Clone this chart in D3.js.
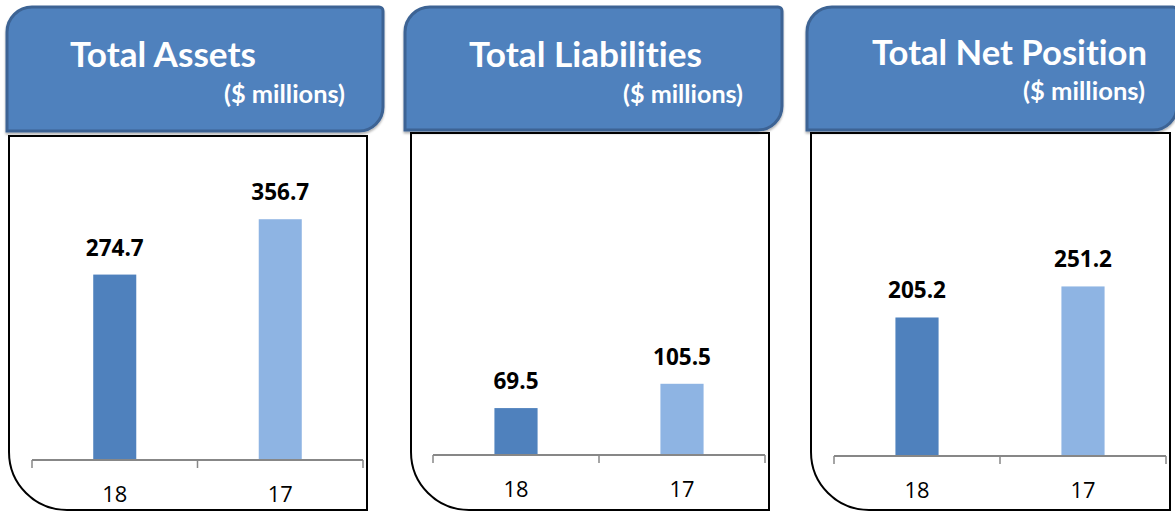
<!DOCTYPE html>
<html>
<head>
<meta charset="utf-8">
<script src="https://cdn.jsdelivr.net/npm/d3@7"></script>
<style>
  html, body { margin: 0; padding: 0; background: #fff; }
  svg { display: block; }
  text { font-variant-ligatures: none; font-feature-settings: "liga" 0, "dlig" 0; }
</style>
</head>
<body>
<svg id="chart" width="1175" height="513"></svg>
<script>
// ---- data ----
const titles = ["Total Assets", "Total Liabilities", "Total Net Position"];
const unitLabel = "($ millions)";
const categories = ["18", "17"];
const assets = [274.7, 356.7];
const liabilities = [69.5, 105.5];
const netPosition = [205.2, 251.2];
const seriesValues = [assets, liabilities, netPosition];

// ---- layout (positions only) ----
const layout = [
  { hx0: 7,   hx1: 383,  hy0: 7, hy1: 131, bx0: 9,   bx1: 367,  by0: 136, by1: 510,
    ax0: 32,  ax1: 363,  base: 460, tx: 70,  tw: 186, tb: 67, sx: 345,  sw: 121, sb: 103, cb: 502 },
  { hx0: 405, hx1: 782,  hy0: 7, hy1: 130, bx0: 411, bx1: 769,  by0: 133, by1: 510,
    ax0: 433, ax1: 765,  base: 455, tx: 469, tw: 233, tb: 67, sx: 743,  sw: 120, sb: 103, cb: 497 },
  { hx0: 807, hx1: 1177, hy0: 7, hy1: 130, bx0: 811, bx1: 1170, by0: 133, by1: 510,
    ax0: 834, ax1: 1166, base: 456, tx: 872, tw: 275, tb: 65, sx: 1145, sw: 122, sb: 100, cb: 498 }
];
const colors = ["#4f81bd", "#8eb4e3"];
const titleFont = "Lato, 'Open Sans', 'DejaVu Sans', sans-serif";
const numFont = "'Open Sans', 'DejaVu Sans', sans-serif";

const svg = d3.select("#chart");
const defs = svg.append("defs");
const f = defs.append("filter").attr("id", "shadow").attr("x", "-5%").attr("y", "-5%").attr("width", "110%").attr("height", "115%");
f.append("feDropShadow").attr("dx", 0).attr("dy", 2).attr("stdDeviation", 1.2).attr("flood-color", "#000").attr("flood-opacity", 0.3);

function headerPath(x0, y0, x1, y1, rtl, rtr, rbr) {
  const p = d3.path();
  p.moveTo(x0, y1);
  p.lineTo(x0, y0 + rtl);
  p.arcTo(x0, y0, x0 + rtl, y0, rtl);
  p.lineTo(x1 - rtr, y0);
  p.arcTo(x1, y0, x1, y0 + rtr, rtr);
  p.lineTo(x1, y1 - rbr);
  p.arcTo(x1, y1, x1 - rbr, y1, rbr);
  p.closePath();
  return p.toString();
}
function bodyPath(x0, y0, x1, y1, rbl) {
  const p = d3.path();
  p.moveTo(x0, y0);
  p.lineTo(x1, y0);
  p.lineTo(x1, y1);
  p.lineTo(x0 + rbl, y1);
  p.arcTo(x0, y1, x0, y1 - rbl, rbl);
  p.closePath();
  return p.toString();
}
function fitText(sel, width) {
  const node = sel.node();
  const fs = parseFloat(sel.attr("font-size"));
  const w = node.getComputedTextLength();
  if (w > 0) sel.attr("font-size", (fs * width / w).toFixed(2));
}
// measure a font size giving a target width for a sample string
function sizeFor(sample, family, weight, width) {
  const t = svg.append("text").attr("font-family", family).attr("font-weight", weight)
    .attr("font-size", 20).text(sample);
  const w = t.node().getComputedTextLength();
  t.remove();
  return w > 0 ? 20 * width / w : 20;
}
const valSize = sizeFor("274.7", numFont, 700, 58);
const catSize = sizeFor("18", numFont, 400, 25);

layout.forEach((L, i) => {
  const g = svg.append("g");
  const vals = seriesValues[i];

  // body panel
  g.append("path")
    .attr("d", bodyPath(L.bx0, L.by0, L.bx1, L.by1, 58))
    .attr("fill", "#fff").attr("stroke", "#000").attr("stroke-width", 2);

  // scales
  const x = d3.scaleBand().domain(categories).range([L.ax0, L.ax1]).paddingInner(0.74).paddingOuter(0.37);
  const y = d3.scaleLinear().domain([0, 400]).range([L.base, L.base - 270]);

  // bars
  g.selectAll("rect.bar").data(categories).join("rect")
    .attr("class", "bar")
    .attr("x", d => x(d))
    .attr("width", x.bandwidth())
    .attr("y", (d, j) => y(vals[j]))
    .attr("height", (d, j) => y(0) - y(vals[j]))
    .attr("fill", (d, j) => colors[j]);

  // value labels
  g.selectAll("text.val").data(categories).join("text")
    .attr("class", "val")
    .attr("x", d => x(d) + x.bandwidth() / 2)
    .attr("y", (d, j) => y(vals[j]) - 19)
    .attr("text-anchor", "middle")
    .attr("font-family", numFont).attr("font-weight", 700).attr("font-size", valSize.toFixed(2))
    .attr("fill", "#000")
    .text((d, j) => vals[j].toFixed(1));

  // axis line + ticks at band boundaries
  const bounds = [L.ax0, L.ax0 + (L.ax1 - L.ax0) / 2, L.ax1];
  g.append("line").attr("x1", L.ax0).attr("x2", L.ax1).attr("y1", y(0)).attr("y2", y(0))
    .attr("stroke", "#878787").attr("stroke-width", 2);
  g.selectAll("line.tick").data(bounds).join("line")
    .attr("class", "tick")
    .attr("x1", d => d).attr("x2", d => d)
    .attr("y1", y(0)).attr("y2", y(0) + 8)
    .attr("stroke", "#878787").attr("stroke-width", 1.5);

  // category labels
  g.selectAll("text.cat").data(categories).join("text")
    .attr("class", "cat")
    .attr("x", d => x(d) + x.bandwidth() / 2)
    .attr("y", L.cb)
    .attr("text-anchor", "middle")
    .attr("font-family", numFont).attr("font-size", catSize.toFixed(2))
    .attr("fill", "#000")
    .text(d => d);

  // header
  g.append("path")
    .attr("d", headerPath(L.hx0, L.hy0, L.hx1, L.hy1, 25, 4, 24))
    .attr("fill", "#4f81bd").attr("stroke", "#3c6394").attr("stroke-width", 3)
    .attr("filter", "url(#shadow)");

  const t = g.append("text")
    .attr("x", L.tx).attr("y", L.tb)
    .attr("font-family", titleFont).attr("font-weight", 700).attr("font-size", 34)
    .attr("fill", "#fff")
    .text(titles[i]);
  fitText(t, L.tw);

  const s = g.append("text")
    .attr("x", L.sx).attr("y", L.sb)
    .attr("text-anchor", "end")
    .attr("font-family", titleFont).attr("font-weight", 700).attr("font-size", 22)
    .attr("fill", "#fff")
    .text(unitLabel);
  fitText(s, L.sw);
});
</script>
</body>
</html>
